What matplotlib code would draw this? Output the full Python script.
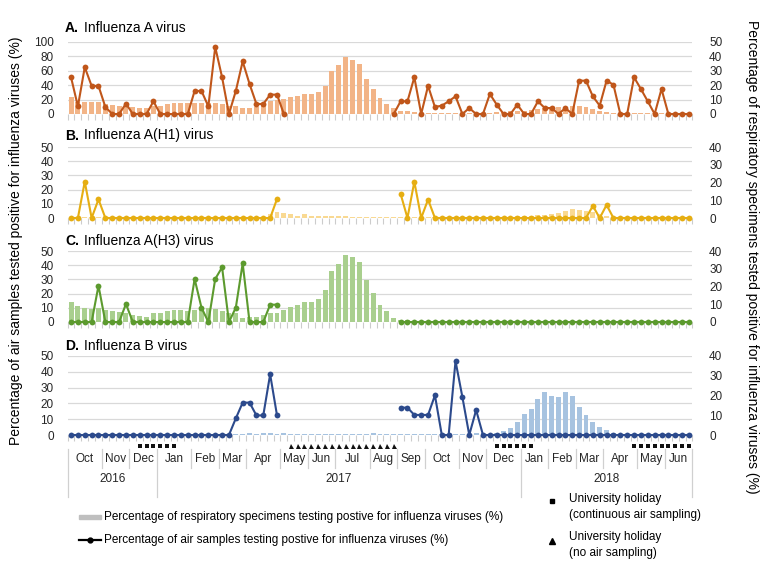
import numpy as np
import matplotlib
matplotlib.use('Agg')
from matplotlib import pyplot as plt
from matplotlib import transforms
from matplotlib.lines import Line2D
from matplotlib.patches import Rectangle

nan = np.nan
weeks = np.arange(91)

# % of air samples positive (left axis), gaps = no air sampling
a_air = [51, 10.6, 65, 39, 39, 9.7, 0, 0, 14.4, 0, 0, 0, 17.6, 0, 0, 0, 0, 0,
         32, 32, 10.6, 93, 51, 0, 32, 73, 41.7, 13.9, 13.9, 26.9, 26.9, 0] + [nan] * 15 + \
        [0, 17.6, 17.6, 51, 0, 39, 9.7, 11.6, 17.6, 24.5, 0, 8.3, 0, 0, 27.8, 13, 0, 0,
         13, 0, 0, 17.6, 8.3, 8.3, 0, 8.3, 0, 46.3, 46.3, 24.5, 11.6, 46.3, 40.7, 0, 0,
         51, 34.7, 17.6, 0, 34.7, 0, 0, 0, 0]
b_air = [0, 0, 25.6, 0, 13.1] + [0] * 25 + [13.4] + [nan] * 17 + \
        [17, 0, 25.6, 0, 13] + [0] * 23 + [8.5, 0, 9.2] + [0] * 12
c_air = [0, 0, 0, 0, 25.6, 0, 0, 0, 12.7, 0, 0, 0, 0, 0, 0, 0, 0, 0,
         30.3, 10.1, 0, 30.3, 38.5, 0, 10.1, 41.3, 0, 0, 0, 12.2, 12.2] + [nan] * 17 + [0] * 43
d_air = [0] * 24 + [10.5, 20.5, 20.5, 12.4, 12.4, 38.4, 12.4] + [nan] * 17 + \
        [17.3, 17.3, 12.7, 12.7, 12.7, 25.1, 0, 0, 46.8, 24, 0, 15.8, 0] + [0] * 30

# % of respiratory specimens positive (right axis)
a_resp = [11.8, 8.1, 8.1, 8.1, 8.1, 6.9, 6.5, 5.8, 4.9, 4.9, 4.2, 4.2, 5.3, 5.3, 7.2,
          7.6, 7.6, 7.6, 7.6, 7.6, 7.6, 7.6, 6.9, 5.8, 5.8, 4.2, 4.2, 4.9, 7.2, 8.8,
          9.9, 10.4, 11.8, 12.7, 13.9, 13.9, 15, 19.7, 30, 34, 39.6, 37.7, 34.9, 24.3,
          17.4, 11.1, 7.2, 4.2, 1.9, 1.9, 1.2, 0.8, 0.8, 0.6, 0.6, 0.6, 0.6, 0.5, 0.5,
          0.6, 0.8, 1, 1.2, 1.5, 1.8, 1.9, 2.3, 3, 3.5, 3.9, 4.2, 4.6, 4.9, 5.8, 5.8,
          5.1, 3.5, 2.3, 1.4, 0.9, 0.8, 0.8, 0.7, 0.6, 0.6, 0.5, 0.5, 0.5, 0.5, 0.5, 0.5]
b_resp = [0.2, 0.3, 0.5, 0.5, 0.3] + [0.2] * 23 + \
         [0.8, 2, 3.2, 2.8, 2.4, 1.3, 2, 1.3, 1.3, 1, 1.3, 1.3, 0.9, 0.6, 0.5, 0.5, 0.8,
          0.8, 0.5, 0.4, 0.3, 0.3] + [0.3] * 8 + \
         [0.4, 0.4, 0.4, 0.4, 0.6, 0.7, 0.8, 1, 1.3, 1.1, 1.7, 1.7, 2.4, 3, 3.8, 5, 4.7,
          3.9, 3.2, 2, 1.1, 0.6] + [0.4] * 11
c_resp = [11.3, 9.2, 8.1, 7.3, 8.1, 6.9, 6.4, 5.6, 5, 4.1, 3.6, 3, 4.9, 4.9, 6.2, 6.9,
          6.9, 6.4, 6.9, 7.7, 7.7, 7.3, 6.4, 5, 5, 2.4, 2.8, 2.8, 4.1, 5, 5, 6.9, 8.5,
          9.8, 11.3, 11.3, 13.1, 18, 28.5, 32.9, 37.7, 36.6, 34, 23.5, 16.3, 9.8, 6.4,
          2.3, 1.3, 1] + [0] * 41
d_resp = [0] * 23 + \
         [0.3, 0.5, 0.5, 0.8, 0.5, 0.8, 0.8, 0.5, 0.8, 0.5, 0.3, 0.5, 0.3, 0.3, 0.3,
          0.3, 0.3, 0.3, 0.3, 0.5, 0.5, 0.8, 0.5, 0.5, 0.5, 0.5, 0.5, 0.7, 0.7, 0.5,
          0.5, 0.7, 0.7, 0.5, 0.7, 0.7, 0.8, 0.8, 0.5, 0.8, 2, 3.7, 6.7, 10.8, 13,
          18.4, 21.8, 19.7, 19, 21.8, 20, 14, 10, 6.6, 4, 2.4, 1.2] + [0.3] * 11

# month axis (week index where each month starts)
months = ['Oct', 'Nov', 'Dec', 'Jan', 'Feb', 'Mar', 'Apr', 'May', 'Jun', 'Jul', 'Aug',
          'Sep', 'Oct', 'Nov', 'Dec', 'Jan', 'Feb', 'Mar', 'Apr', 'May', 'Jun']
month_start = [0, 5, 9, 13, 18, 22, 26, 31, 35, 39, 44, 48, 52, 57, 61, 66, 70, 74, 78, 83, 87, 91]
years = ['2016', '2017', '2018']
year_start = [0, 13, 66, 91]

holiday_sampling = list(range(10, 16)) + list(range(62, 68)) + list(range(82, 91))
holiday_no_sampling = list(range(32, 48))

plt.rcParams['font.family'] = 'Liberation Sans'
W, H = 761, 583
fig = plt.figure(figsize=(W / 100, H / 100), dpi=100)


def fx(px):
    return px / W


def fy(px):
    return 1 - px / H


tick_col = '#262626'
panels = [
    ('A.', 'Influenza A virus', a_air, a_resp, '#C0561A', '#F2B487', 100, 50, 42, 114, 28),
    ('B.', 'Influenza A(H1) virus', b_air, b_resp, '#E6AE12', '#F9D992', 50, 40, 147, 218, 135.5),
    ('C.', 'Influenza A(H3) virus', c_air, c_resp, '#5C9A2E', '#A9CF8E', 50, 40, 251, 322, 241),
    ('D.', 'Influenza B virus', d_air, d_resp, '#2C4A8C', '#A7C3E0', 50, 40, 356, 435, 346),
]

x0, x1 = 67.6, 692.4
for letter, title, air, resp, lc, bc, lmax, rmax, top, bot, ty in panels:
    ax = fig.add_axes([fx(x0), fy(bot), fx(x1) - fx(x0), (bot - top) / H])
    ax.bar(weeks, resp, width=0.72, color=bc, zorder=2)
    for g in np.linspace(0, rmax, 6):
        ax.axhline(g, color='#d9d9d9', lw=0.9, zorder=1)
    ax.set_xlim(-0.5, 90.5)
    ax.set_ylim(0, rmax)
    ax.set_xticks(np.arange(-0.5, 91, 1))
    ax.set_xticklabels([])
    ax.tick_params(axis='x', length=4, width=0.8, color='#cccccc')
    for s in ax.spines.values():
        s.set_visible(False)

    ax2 = ax.twinx()
    ax2.plot(weeks, air, color=lc, lw=1.5, marker='o', ms=4.2, mew=0, clip_on=False, zorder=3)
    ax2.set_ylim(0, lmax)
    ax2.set_xlim(-0.5, 90.5)
    for s in ax2.spines.values():
        s.set_visible(False)

    ax.yaxis.tick_right()
    ax.set_yticks(np.arange(0, rmax + 1, 10))
    ax.tick_params(axis='y', length=0, pad=12, labelsize=8.5, labelcolor=tick_col)
    ax2.yaxis.tick_left()
    ax2.set_yticks(np.arange(0, lmax + 1, lmax // 5))
    ax2.tick_params(axis='y', length=0, pad=10, labelsize=8.5, labelcolor=tick_col)

    fig.text(fx(65), fy(ty), letter, fontsize=10, weight='bold', va='center')
    fig.text(fx(83.5), fy(ty), title, fontsize=10, va='center')

# week axis under panel D
trans = transforms.blended_transform_factory(ax.transData, fig.transFigure)
ax.plot(holiday_sampling, [fy(446)] * len(holiday_sampling), 's', color='#111111',
        ms=2.8, mew=0, transform=trans, clip_on=False)
ax.plot(holiday_no_sampling, [fy(446)] * len(holiday_no_sampling), '^', color='#111111',
        ms=3.6, mew=0, transform=trans, clip_on=False)

for i, m in enumerate(months):
    xc = (month_start[i] + month_start[i + 1] - 1) / 2
    ax.text(xc, fy(459), m, transform=trans, ha='center', va='center', fontsize=8.5,
            color=tick_col)
for b in month_start[1:-1]:
    if b in year_start:
        continue
    ax.add_artist(Line2D([b - 0.5, b - 0.5], [fy(449), fy(468)], transform=trans,
                         color='#d0d0d0', lw=0.9, clip_on=False))
for i, y in enumerate(years):
    xc = (year_start[i] + year_start[i + 1] - 1) / 2
    ax.text(xc, fy(479), y, transform=trans, ha='center', va='center', fontsize=8.5,
            color=tick_col)
for b in year_start:
    ax.add_artist(Line2D([b - 0.5, b - 0.5], [fy(449), fy(497)], transform=trans,
                         color='#d0d0d0', lw=0.9, clip_on=False))

# axis titles
fig.text(fx(16), fy(241), 'Percentage of air samples tested positive for influenza viruses (%)',
         rotation=90, ha='center', va='center', fontsize=10)
fig.text(fx(752), fy(257),
         'Percentage of respiratory specimens tested positive for influenza viruses (%)',
         rotation=270, ha='center', va='center', fontsize=10)

# legend
fig.add_artist(Rectangle((fx(79), fy(519)), fx(101) - fx(79), 4.5 / H, color='#bfbfbf',
                         transform=fig.transFigure))
fig.text(fx(104), fy(517), 'Percentage of respiratory specimens testing postive for influenza viruses (%)',
         fontsize=8.5, va='center')
fig.add_artist(Line2D([fx(79), fx(101)], [fy(540), fy(540)], color='black', lw=1.6))
fig.add_artist(Line2D([fx(90)], [fy(540)], marker='o', ms=3.5, color='black'))
fig.text(fx(104), fy(540), 'Percentage of air samples testing postive for influenza viruses (%)',
         fontsize=8.5, va='center')

fig.add_artist(Line2D([fx(552)], [fy(501)], marker='s', ms=3.5, color='black', ls='none'))
fig.text(fx(569), fy(499), 'University holiday', fontsize=8.5, va='center')
fig.text(fx(569), fy(515), '(continuous air sampling)', fontsize=8.5, va='center')
fig.add_artist(Line2D([fx(552)], [fy(541)], marker='^', ms=4, color='black', ls='none'))
fig.text(fx(569), fy(537), 'University holiday', fontsize=8.5, va='center')
fig.text(fx(569), fy(553), '(no air sampling)', fontsize=8.5, va='center')

fig.savefig('out.png', dpi=100)
